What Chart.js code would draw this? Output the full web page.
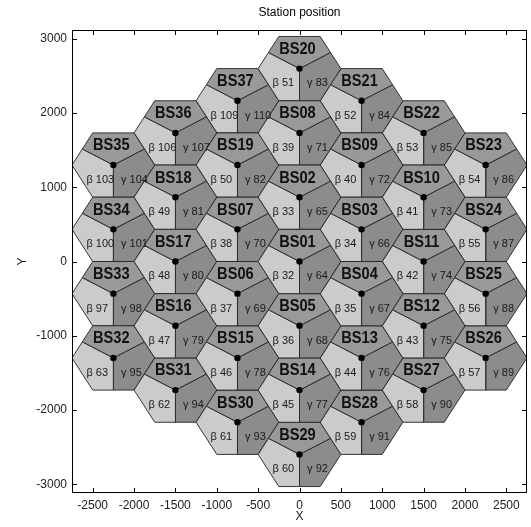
<!DOCTYPE html>
<html>
<head>
<meta charset="utf-8">
<script src="https://cdn.jsdelivr.net/npm/chart.js@4.4.1/dist/chart.umd.min.js"></script>
<style>
  html, body { margin: 0; padding: 0; background: #fff; }
  canvas { display: block; }
</style>
</head>
<body>
<canvas id="stationChart" width="531" height="527"></canvas>
<script>
// Base stations (site centres, metres)
const siteNames = ['BS01','BS02','BS03','BS04','BS05','BS06','BS07','BS08','BS09','BS10',
                   'BS11','BS12','BS13','BS14','BS15','BS16','BS17','BS18','BS19','BS20',
                   'BS21','BS22','BS23','BS24','BS25','BS26','BS27','BS28','BS29','BS30',
                   'BS31','BS32','BS33','BS34','BS35','BS36','BS37'];
const siteX = [0, 0, 750, 750, 0, -750, -750, 0, 750, 1500,
               1500, 1500, 750, 0, -750, -1500, -1500, -1500, -750, 0,
               750, 1500, 2250, 2250, 2250, 2250, 1500, 750, 0, -750,
               -1500, -2250, -2250, -2250, -2250, -1500, -750];
const siteY = [0, 866, 433, -433, -866, -433, 433, 1732, 1299, 866,
               0, -866, -1299, -1732, -1299, -866, 0, 866, 1299, 2598,
               2165, 1732, 1299, 433, -433, -1299, -1732, -2165, -2598, -2165,
               -1732, -1299, -433, 433, 1299, 1732, 2165];

// Sector ids shown in the lower-left (beta) and lower-right (gamma) sectors
const betaIds = [32, 33, 34, 35, 36, 37, 38, 39, 40, 41,
                 42, 43, 44, 45, 46, 47, 48, 49, 50, 51,
                 52, 53, 54, 55, 56, 57, 58, 59, 60, 61,
                 62, 63, 97, 100, 103, 106, 109];
const gammaIds = [64, 65, 66, 67, 68, 69, 70, 71, 72, 73,
                  74, 75, 76, 77, 78, 79, 80, 81, 82, 83,
                  84, 85, 86, 87, 88, 89, 90, 91, 92, 93,
                  94, 95, 98, 101, 104, 107, 110];

// Axis ticks
const xTicks = [-2500, -2000, -1500, -1000, -500, 0, 500, 1000, 1500, 2000, 2500];
const yTicks = [-3000, -2000, -1000, 0, 1000, 2000, 3000];

const cellRadius = 500;
const sectorColors = { alpha: '#999999', beta: '#cbcbcb', gamma: '#8c8c8c' };

// Build the 3 sector outlines of a site hexagon (flat top, split at 30/150/270 deg)
function sectorPoints(cx, cy, which) {
    const R = cellRadius;
    const H = R * Math.sqrt(3) / 2;
    const c = { x: cx, y: cy };
    if (which === 'alpha') {
        return [c, { x: cx + 0.75 * R, y: cy + H / 2 }, { x: cx + R / 2, y: cy + H },
                { x: cx - R / 2, y: cy + H }, { x: cx - 0.75 * R, y: cy + H / 2 }, c];
    }
    if (which === 'beta') {
        return [c, { x: cx - 0.75 * R, y: cy + H / 2 }, { x: cx - R, y: cy },
                { x: cx - R / 2, y: cy - H }, { x: cx, y: cy - H }, c];
    }
    return [c, { x: cx, y: cy - H }, { x: cx + R / 2, y: cy - H },
            { x: cx + R, y: cy }, { x: cx + 0.75 * R, y: cy + H / 2 }, c];
}

const datasets = [];
siteX.forEach((cx, i) => {
    ['alpha', 'beta', 'gamma'].forEach(s => {
        datasets.push({
            data: sectorPoints(cx, siteY[i], s),
            showLine: true,
            fill: 'shape',
            backgroundColor: sectorColors[s],
            borderColor: '#222',
            borderWidth: 0.9,
            pointRadius: 0,
            tension: 0,
            order: 1
        });
    });
});

// Site dots
datasets.push({
    data: siteX.map((x, i) => ({ x: x, y: siteY[i] })),
    showLine: false,
    pointRadius: 3.2,
    pointBackgroundColor: '#000',
    pointBorderWidth: 0,
    order: 0
});

// Text labels, frame, inside ticks, title
const decorPlugin = {
    id: 'decor',
    afterDatasetsDraw(chart) {
        const { ctx, scales: { x, y } } = chart;
        ctx.save();
        ctx.textBaseline = 'middle';
        siteNames.forEach((name, i) => {
            const cx = siteX[i], cy = siteY[i];
            // station name in the top sector
            ctx.save();
            ctx.fillStyle = '#111';
            ctx.font = 'bold 17px "Liberation Sans", Arial, sans-serif';
            ctx.textAlign = 'center';
            ctx.translate(x.getPixelForValue(cx - 25), y.getPixelForValue(cy + 260));
            ctx.scale(0.86, 1);
            ctx.fillText(name, 0, 0);
            ctx.restore();
            // beta / gamma sector ids
            ctx.font = '11px "Liberation Sans", Arial, sans-serif';
            ctx.textAlign = 'left';
            ctx.fillStyle = '#1a1a1a';
            ctx.fillText('\u03b2 ' + betaIds[i], x.getPixelForValue(cx - 325), y.getPixelForValue(cy - 200));
            ctx.fillText('\u03b3 ' + gammaIds[i], x.getPixelForValue(cx + 92), y.getPixelForValue(cy - 200));
        });
        ctx.restore();
    },
    afterDraw(chart) {
        const { ctx, chartArea: a, scales: { x, y } } = chart;
        ctx.save();
        ctx.strokeStyle = '#000';
        ctx.lineWidth = 1;
        ctx.strokeRect(a.left + 0.5, a.top + 0.5, a.right - a.left - 1, a.bottom - a.top - 1);
        ctx.beginPath();
        const tl = 5;
        xTicks.forEach(v => {
            const px = Math.round(x.getPixelForValue(v)) + 0.5;
            ctx.moveTo(px, a.bottom); ctx.lineTo(px, a.bottom - tl);
            ctx.moveTo(px, a.top); ctx.lineTo(px, a.top + tl);
        });
        yTicks.forEach(v => {
            const py = Math.round(y.getPixelForValue(v)) + 0.5;
            ctx.moveTo(a.left, py); ctx.lineTo(a.left + tl, py);
            ctx.moveTo(a.right, py); ctx.lineTo(a.right - tl, py);
        });
        ctx.stroke();
        // title
        ctx.fillStyle = '#000';
        ctx.font = '12px "Liberation Sans", Arial, sans-serif';
        ctx.textAlign = 'center';
        ctx.textBaseline = 'middle';
        ctx.fillText('Station position', (a.left + a.right) / 2, 13);
        ctx.restore();
    }
};

const tickFont = { family: '"Liberation Sans", Arial, sans-serif', size: 12 };

new Chart(document.getElementById('stationChart'), {
    type: 'scatter',
    data: { datasets: datasets },
    options: {
        responsive: false,
        animation: false,
        events: [],
        layout: { padding: { top: 30, right: 1, left: 0, bottom: 0 } },
        plugins: {
            legend: { display: false },
            tooltip: { enabled: false },
            title: { display: false }
        },
        scales: {
            x: {
                type: 'linear',
                min: -2750,
                max: 2750,
                afterBuildTicks: s => { s.ticks = xTicks.map(v => ({ value: v })); },
                afterFit: s => { s.height = 34; },
                grid: { display: false, drawTicks: false },
                border: { display: false },
                ticks: { font: tickFont, color: '#222', padding: 5, maxRotation: 0, callback: v => String(v) },
                title: { display: true, text: 'X', font: tickFont, color: '#222', padding: { top: 0, bottom: 3 } }
            },
            y: {
                type: 'linear',
                min: -3118,
                max: 3118,
                afterBuildTicks: s => { s.ticks = yTicks.map(v => ({ value: v })); },
                afterFit: s => { s.width = 72; },
                grid: { display: false, drawTicks: false },
                border: { display: false },
                ticks: { font: tickFont, color: '#222', padding: 5, callback: v => String(v) },
                title: { display: true, text: 'Y', font: tickFont, color: '#222', padding: { top: 15, bottom: 0 } }
            }
        }
    },
    plugins: [decorPlugin]
});
</script>
</body>
</html>
